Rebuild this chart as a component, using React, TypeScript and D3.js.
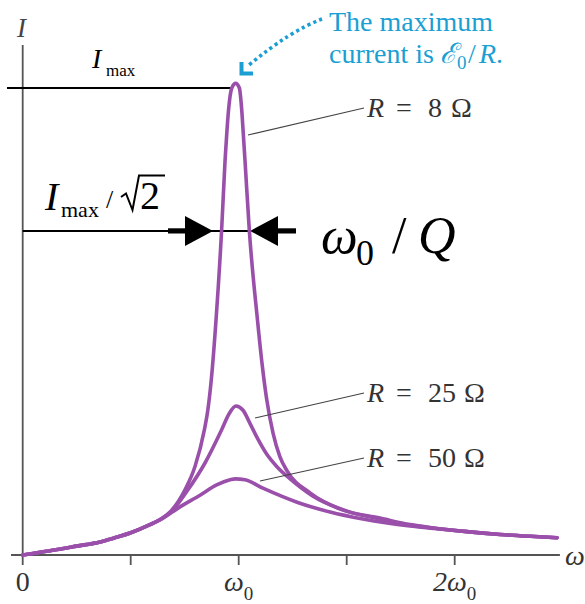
import React from "react";
import * as d3 from "d3";

// ---- data (ω in units of ω0, I with Imax(R = 8 Ω) = 1) ----
const resistances = [8, 25, 50];

const omegaR8 = [0, 0.126, 0.25, 0.358, 0.42, 0.497, 0.589, 0.636, 0.682, 0.752, 0.798, 0.841, 0.857, 0.873, 0.895, 0.921, 0.937, 0.945, 0.953, 0.968, 0.986, 1.003, 1.014, 1.021, 1.029, 1.049, 1.087, 1.108, 1.129, 1.159, 1.191, 1.224, 1.33, 1.483, 1.654, 1.793, 1.9, 2.057, 2.21, 2.35, 2.474];
const currentR8 = [0, 0.009, 0.019, 0.028, 0.036, 0.047, 0.065, 0.076, 0.092, 0.14, 0.19, 0.268, 0.31, 0.375, 0.503, 0.696, 0.846, 0.904, 0.953, 1.0, 1.01, 1.0, 0.953, 0.904, 0.846, 0.696, 0.503, 0.41, 0.335, 0.261, 0.21, 0.18, 0.133, 0.096, 0.079, 0.065, 0.058, 0.05, 0.044, 0.04, 0.037];

const omegaR25 = [0, 0.126, 0.25, 0.358, 0.42, 0.497, 0.589, 0.636, 0.682, 0.761, 0.844, 0.921, 0.955, 0.987, 1.02, 1.052, 1.089, 1.131, 1.177, 1.238, 1.344, 1.502, 1.654, 1.793, 1.9, 2.057, 2.21, 2.35, 2.474];
const currentR25 = [0, 0.009, 0.019, 0.028, 0.036, 0.047, 0.065, 0.076, 0.09, 0.137, 0.197, 0.268, 0.302, 0.319, 0.31, 0.282, 0.248, 0.215, 0.189, 0.163, 0.126, 0.094, 0.077, 0.064, 0.058, 0.05, 0.044, 0.04, 0.037];

const omegaR50 = [0, 0.126, 0.25, 0.358, 0.42, 0.497, 0.589, 0.636, 0.728, 0.821, 0.898, 0.96, 0.984, 1.029, 1.112, 1.27, 1.423, 1.575, 1.793, 1.9, 2.057, 2.21, 2.35, 2.474];
const currentR50 = [0, 0.009, 0.019, 0.028, 0.036, 0.047, 0.065, 0.075, 0.103, 0.128, 0.15, 0.161, 0.163, 0.161, 0.143, 0.113, 0.092, 0.077, 0.062, 0.057, 0.05, 0.044, 0.04, 0.037];

const xTicks = [0, 0.5, 1, 1.5, 2];
const xTickLabels = ["0", "", "ω", "", "2ω"];
const xTickSubs = ["", "", "0", "", "0"];

const iMaxLevel = 1.0;
const halfPowerLevel = 0.694;

// ---- styling ----
const SERIF = '"Liberation Serif", "DejaVu Serif", "Times New Roman", serif';
const PURPLE = "#9a50aa";
const CYAN = "#1b9fd3";
const AXIS = "#555555";

export default function App() {
  const x = d3.scaleLinear().domain([0, 1]).range([22.7, 238.7]);
  const y = d3.scaleLinear().domain([0, 1]).range([555, 88]);

  const line = d3
    .line<[number, number]>()
    .x((d) => x(d[0]))
    .y((d) => y(d[1]))
    .curve(d3.curveMonotoneX);

  const series = [
    { r: resistances[0], pts: omegaR8.map((w, i) => [w, currentR8[i]] as [number, number]) },
    { r: resistances[1], pts: omegaR25.map((w, i) => [w, currentR25[i]] as [number, number]) },
    { r: resistances[2], pts: omegaR50.map((w, i) => [w, currentR50[i]] as [number, number]) },
  ];

  const x0 = x(0);
  const yAxis0 = y(0);
  const yHalf = y(halfPowerLevel);
  const yMax = y(iMaxLevel);

  const rLabels = [
    { r: resistances[0], base: 117, lx1: 248, ly1: 135, lx2: 364, ly2: 108 },
    { r: resistances[1], base: 402, lx1: 255, ly1: 418, lx2: 364, ly2: 393 },
    { r: resistances[2], base: 467, lx1: 260, ly1: 481, lx2: 364, ly2: 458 },
  ];

  const serif = { fontFamily: SERIF };

  return (
    <svg
      width={585}
      height={604}
      viewBox="0 0 585 604"
      style={{ position: "absolute", left: 0, top: 0, background: "#fff", fontFamily: SERIF }}
    >
      <rect width={585} height={604} fill="#fff" />

      {/* axes */}
      <line x1={x0} y1={45} x2={x0} y2={yAxis0} stroke={AXIS} strokeWidth={1.8} />
      <line x1={x(-0.054)} y1={yAxis0} x2={x(2.487)} y2={yAxis0} stroke={AXIS} strokeWidth={1.8} />
      {xTicks.map((t) => (
        <line key={t} x1={x(t)} y1={yAxis0} x2={x(t)} y2={yAxis0 + 10} stroke={AXIS} strokeWidth={1.8} />
      ))}
      {xTicks.map((t, i) =>
        xTickLabels[i] ? (
          <text key={"l" + t} x={x(t)} y={591} fontSize={28} textAnchor="middle" fill="#333" style={serif}>
            <tspan fontStyle={xTickLabels[i].includes("ω") ? "italic" : "normal"}>{xTickLabels[i]}</tspan>
            {xTickSubs[i] && (
              <tspan fontSize={19} dy={9} fontStyle="normal">
                {xTickSubs[i]}
              </tspan>
            )}
          </text>
        ) : null
      )}
      <text x={565} y={565} fontSize={28} fontStyle="italic" fill="#333" style={serif}>
        ω
      </text>
      <text x={17} y={37} fontSize={27} fontStyle="italic" fill="#444" style={serif}>
        I
      </text>

      {/* Imax line & label */}
      <line x1={7} y1={yMax} x2={232} y2={yMax} stroke="#000" strokeWidth={2} />
      <text x={92} y={68} fontSize={28} fontStyle="italic" fill="#000" style={serif}>
        I
      </text>
      <text x={106} y={76} fontSize={17} fill="#000" style={serif}>
        max
      </text>

      {/* Imax/√2 line & label */}
      <line x1={x0} y1={yHalf} x2={250} y2={yHalf} stroke="#000" strokeWidth={2} />
      <rect x={168} y={yHalf - 2.6} width={18} height={5.2} fill="#000" />
      <path d={`M185,${yHalf - 15} L213,${yHalf} L185,${yHalf + 15} Z`} fill="#000" />
      <path d={`M278,${yHalf - 15} L250,${yHalf} L278,${yHalf + 15} Z`} fill="#000" />
      <rect x={277} y={yHalf - 2.6} width={19} height={5.2} fill="#000" />
      <text x={45} y={210} fontSize={40} fontStyle="italic" fill="#000" style={serif}>
        I
      </text>
      <text x={61} y={217} fontSize={22} fill="#000" style={serif}>
        max
      </text>
      <text x={106} y={208} fontSize={26} fill="#000" style={serif}>
        /
      </text>
      <path d="M121,197 L126,193.5 L132.5,210 L139,175.5 L165,175.5" fill="none" stroke="#000" strokeWidth={2} strokeLinejoin="miter" />
      <text x={140} y={209} fontSize={40} fill="#000" style={serif}>
        2
      </text>

      {/* ω0 / Q */}
      <text y={253} fontSize={52} fill="#000" style={serif}>
        <tspan x={321} fontStyle="italic">ω</tspan>
        <tspan x={356} fontSize={36} dy={12}>0</tspan>
        <tspan x={392} dy={-12}>/</tspan>
        <tspan x={418} fontStyle="italic">Q</tspan>
      </text>

      {/* curves */}
      {series.map((s) => (
        <path key={s.r} d={line(s.pts) ?? ""} fill="none" stroke={PURPLE} strokeWidth={3.6} strokeLinejoin="round" strokeLinecap="round" />
      ))}

      {/* R labels with leaders */}
      {rLabels.map((l) => (
        <g key={l.r}>
          <line x1={l.lx1} y1={l.ly1} x2={l.lx2} y2={l.ly2} stroke="#444" strokeWidth={1.1} />
          <text y={l.base} fontSize={28} fill="#333" style={serif}>
            <tspan x={367} fontStyle="italic">R</tspan>
            <tspan x={396}>=</tspan>
            <tspan x={428}>{String(l.r)}</tspan>
            <tspan x={l.r < 10 ? 451 : 464}>Ω</tspan>
          </text>
        </g>
      ))}

      {/* cyan annotation */}
      <path d="M322,19 Q290,31 249,65" fill="none" stroke={CYAN} strokeWidth={3.6} strokeDasharray="3.2 3.2" />
      <path d="M241.5,62 L241.5,73.5 L253,73.5" fill="none" stroke={CYAN} strokeWidth={4} strokeLinejoin="miter" />
      <text x={329} y={31} fontSize={28} fill={CYAN} style={serif}>
        The maximum
      </text>
      <text y={63} fontSize={28} fill={CYAN} style={serif}>
        <tspan x={329}>current is </tspan>
        <tspan x={440} fontStyle="italic">ℰ</tspan>
        <tspan x={457} fontSize={19} dy={6}>0</tspan>
        <tspan x={468} dy={-6}>/</tspan>
        <tspan x={479} fontStyle="italic">R</tspan>
        <tspan>.</tspan>
      </text>
    </svg>
  );
}
